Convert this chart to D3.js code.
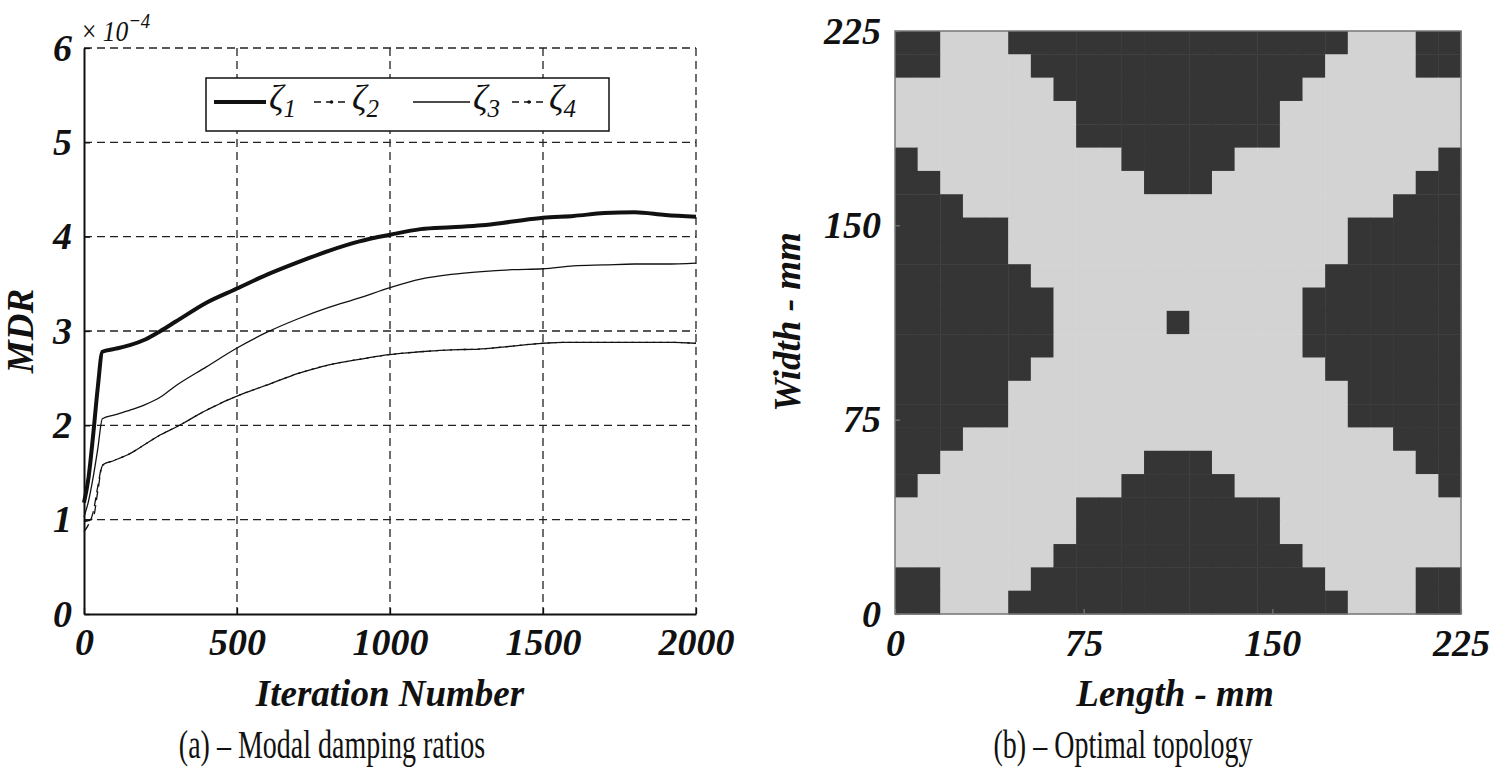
<!DOCTYPE html>
<meta charset="utf-8">
<style>
  body { margin: 0; background: #fff; }
  .tick text, .lbl { font-family: "Liberation Serif", "Times New Roman", serif; font-weight: bold; font-style: italic; fill: #111; }
  .cap { font-family: "Liberation Serif", "Times New Roman", serif; fill: #111; }
</style>
<body>
<script src="https://d3js.org/d3.v7.min.js"></script>
<script>
  // ---- data ----
  var iterations = [0, 15, 30, 45, 60, 100, 150, 200, 250, 300, 400, 500, 600, 700, 800, 900,
                    1000, 1100, 1200, 1300, 1400, 1500, 1600, 1700, 1800, 1900, 2000];
  // modal damping ratios, x 1e-4
  var zeta1 = [1.18, 1.45, 1.9, 2.4, 2.78, 2.81, 2.85, 2.91, 3.0, 3.1, 3.3, 3.45, 3.6, 3.73, 3.85, 3.95,
               4.02, 4.08, 4.1, 4.12, 4.16, 4.2, 4.22, 4.25, 4.26, 4.23, 4.21];
  var zeta2 = [0.87, 0.95, 1.08, 1.35, 1.58, 1.63, 1.7, 1.8, 1.9, 1.98, 2.16, 2.31, 2.43, 2.55, 2.64, 2.7,
               2.75, 2.78, 2.8, 2.81, 2.84, 2.87, 2.88, 2.88, 2.88, 2.88, 2.87];
  var zeta3 = [1.03, 1.2, 1.45, 1.75, 2.07, 2.11, 2.16, 2.22, 2.3, 2.42, 2.62, 2.82, 2.99, 3.13, 3.25, 3.35,
               3.46, 3.55, 3.6, 3.63, 3.65, 3.66, 3.69, 3.7, 3.71, 3.71, 3.72];
  var zeta4 = [0.98, 0.99, 1.02, 1.3, 1.57, 1.63, 1.7, 1.8, 1.9, 1.98, 2.16, 2.31, 2.43, 2.55, 2.64, 2.7,
               2.75, 2.78, 2.8, 2.81, 2.84, 2.87, 2.88, 2.88, 2.88, 2.88, 2.87];
  var seriesNames = ["1", "2", "3", "4"];
  var iterTicks = [0, 500, 1000, 1500, 2000];
  var mdrTicks = [0, 1, 2, 3, 4, 5, 6];

  // optimal topology, 25 x 25 cells of 9 mm, first string = top row, 1 = dark
  var topoRows = [
    "1100011111111111111100011",
    "1100001111111111111000011",
    "0000000111111111110000000",
    "0000000011111111100000000",
    "0000000011111111100000000",
    "1000000000111110000000001",
    "1100000000011100000000011",
    "1110000000000000000000111",
    "1111100000000000000011111",
    "1111100000000000000011111",
    "1111110000000000000111111",
    "1111111000000000001111111",
    "1111111000001000001111111",
    "1111111000000000001111111",
    "1111110000000000000111111",
    "1111100000000000000011111",
    "1111100000000000000011111",
    "1110000000000000000000111",
    "1100000000011100000000011",
    "1000000000111110000000001",
    "0000000011111111100000000",
    "0000000011111111100000000",
    "0000000111111111110000000",
    "1100001111111111111000011",
    "1100011111111111111100011"
  ];
  var cellSize = 9;
  var mmTicks = [0, 75, 150, 225];

  var svg = d3.select("body").append("svg")
    .attr("width", 1496)
    .attr("height", 771);

  // ================= (a) modal damping ratios =================
  var x = d3.scaleLinear().domain([0, 2000]).range([84, 696]);
  var y = d3.scaleLinear().domain([0, 6]).range([614, 48]);

  var grid = svg.append("g")
    .attr("stroke", "#222")
    .attr("stroke-width", 1.3)
    .attr("stroke-dasharray", "8,5");
  grid.selectAll(".vg").data(iterTicks.slice(1)).enter().append("line")
    .attr("x1", function (d) { return x(d); }).attr("x2", function (d) { return x(d); })
    .attr("y1", y(6)).attr("y2", y(0));
  grid.selectAll(".hg").data(mdrTicks.slice(1)).enter().append("line")
    .attr("x1", x(0)).attr("x2", x(2000))
    .attr("y1", function (d) { return y(d); }).attr("y2", function (d) { return y(d); });

  var gx = svg.append("g")
    .attr("transform", "translate(0," + y(0) + ")")
    .call(d3.axisBottom(x).tickValues(iterTicks).tickFormat(d3.format("d"))
      .tickSize(-6).tickSizeOuter(0).tickPadding(14));
  var gy = svg.append("g")
    .attr("transform", "translate(" + x(0) + ",0)")
    .call(d3.axisLeft(y).tickValues(mdrTicks).tickFormat(d3.format("d"))
      .tickSize(-6).tickSizeOuter(0).tickPadding(12));
  [gx, gy].forEach(function (g) {
    g.select(".domain").attr("stroke", "#111").attr("stroke-width", 2);
    g.selectAll(".tick line").attr("stroke", "#111").attr("stroke-width", 1.3);
    g.selectAll(".tick text").attr("font-size", 38);
  });

  var lineGen = function (vals) {
    return d3.line()
      .curve(d3.curveMonotoneX)
      .x(function (d, i) { return x(iterations[i]); })
      .y(function (d) { return y(d); })(vals);
  };
  var styles = [
    { vals: zeta1, w: 4, dash: null },
    { vals: zeta2, w: 1.3, dash: "9,5" },
    { vals: zeta3, w: 1.3, dash: null },
    { vals: zeta4, w: 1.3, dash: "9,5" }
  ];
  svg.append("g").selectAll("path").data(styles).enter().append("path")
    .attr("d", function (s) { return lineGen(s.vals); })
    .attr("fill", "none")
    .attr("stroke", "#111")
    .attr("stroke-width", function (s) { return s.w; })
    .attr("stroke-dasharray", function (s) { return s.dash; })
    .attr("stroke-linejoin", "round");

  // legend
  var leg = svg.append("g");
  leg.append("rect")
    .attr("x", 206).attr("y", 78).attr("width", 403).attr("height", 53)
    .attr("fill", "#fff").attr("stroke", "#111").attr("stroke-width", 1.5);
  var legX = [214, 314, 413, 512];
  var legW = [52, 35, 57, 34];
  styles.forEach(function (s, i) {
    leg.append("line")
      .attr("x1", legX[i]).attr("x2", legX[i] + legW[i])
      .attr("y1", 102).attr("y2", 102)
      .attr("stroke", "#111").attr("stroke-width", s.w)
      .attr("stroke-dasharray", s.dash ? "7,5" : null);
    if (s.dash) {
      leg.append("circle").attr("cx", legX[i] + legW[i] / 2).attr("cy", 102).attr("r", 1.8).attr("fill", "#111");
    }
    var t = leg.append("text").attr("class", "cap")
      .attr("x", legX[i] + legW[i] + 3).attr("y", 110)
      .attr("font-size", 36).attr("font-style", "italic");
    t.append("tspan").text("\u03B6");
    t.append("tspan").attr("dy", 7).attr("font-size", 25).text(seriesNames[i]);
  });

  // x 10^-4
  var mult = svg.append("text").attr("class", "cap")
    .attr("transform", "translate(82,41) scale(0.85,1)").attr("font-size", 30);
  mult.append("tspan").text("\u00D7 ");
  mult.append("tspan").attr("font-style", "italic").text("10");
  mult.append("tspan").attr("font-style", "italic").attr("font-size", 22).attr("dy", -13).text("\u22124");

  svg.append("text").attr("class", "lbl")
    .attr("x", 390).attr("y", 706).attr("text-anchor", "middle").attr("font-size", 37)
    .text("Iteration Number");
  svg.append("text").attr("class", "lbl")
    .attr("transform", "translate(33,331) rotate(-90)")
    .attr("text-anchor", "middle").attr("font-size", 37)
    .text("MDR");
  svg.append("text").attr("class", "cap")
    .attr("transform", "translate(332,758) scale(0.7,1)")
    .attr("text-anchor", "middle").attr("font-size", 40)
    .text("(a) \u2013 Modal damping ratios");

  // ================= (b) optimal topology =================
  var xt = d3.scaleLinear().domain([0, 225]).range([895, 1461]);
  var yt = d3.scaleLinear().domain([0, 225]).range([614, 31]);

  var cells = [];
  topoRows.forEach(function (row, r) {
    row.split("").forEach(function (v, c) {
      cells.push({ r: r, c: c, v: +v });
    });
  });
  svg.append("g").selectAll("rect").data(cells).enter().append("rect")
    .attr("x", function (d) { return xt(d.c * cellSize); })
    .attr("y", function (d) { return yt(225 - d.r * cellSize); })
    .attr("width", function (d) { return xt((d.c + 1) * cellSize) - xt(d.c * cellSize) + 0.5; })
    .attr("height", function (d) { return yt(225 - (d.r + 1) * cellSize) - yt(225 - d.r * cellSize) + 0.5; })
    .attr("fill", function (d) { return d.v ? "#353535" : "#d3d3d3"; });

  svg.append("rect")
    .attr("x", xt(0)).attr("y", yt(225))
    .attr("width", xt(225) - xt(0)).attr("height", yt(0) - yt(225))
    .attr("fill", "none").attr("stroke", "#777").attr("stroke-width", 1.5);

  var gxt = svg.append("g")
    .attr("transform", "translate(0," + yt(0) + ")")
    .call(d3.axisBottom(xt).tickValues(mmTicks).tickSize(-5).tickSizeOuter(0).tickPadding(15));
  var gyt = svg.append("g")
    .attr("transform", "translate(" + xt(0) + ",0)")
    .call(d3.axisLeft(yt).tickValues(mmTicks).tickSize(-5).tickSizeOuter(0).tickPadding(14));
  [gxt, gyt].forEach(function (g) {
    g.select(".domain").attr("stroke", "none");
    g.selectAll(".tick line").attr("stroke", "#777").attr("stroke-width", 1.2);
    g.selectAll(".tick text").attr("font-size", 38);
  });

  svg.append("text").attr("class", "lbl")
    .attr("x", 1175).attr("y", 706).attr("text-anchor", "middle").attr("font-size", 37)
    .text("Length - mm");
  svg.append("text").attr("class", "lbl")
    .attr("transform", "translate(800,322) rotate(-90)")
    .attr("text-anchor", "middle").attr("font-size", 37)
    .text("Width - mm");
  svg.append("text").attr("class", "cap")
    .attr("transform", "translate(1123,758) scale(0.7,1)")
    .attr("text-anchor", "middle").attr("font-size", 40)
    .text("(b) \u2013 Optimal topology");
</script>
</body>
